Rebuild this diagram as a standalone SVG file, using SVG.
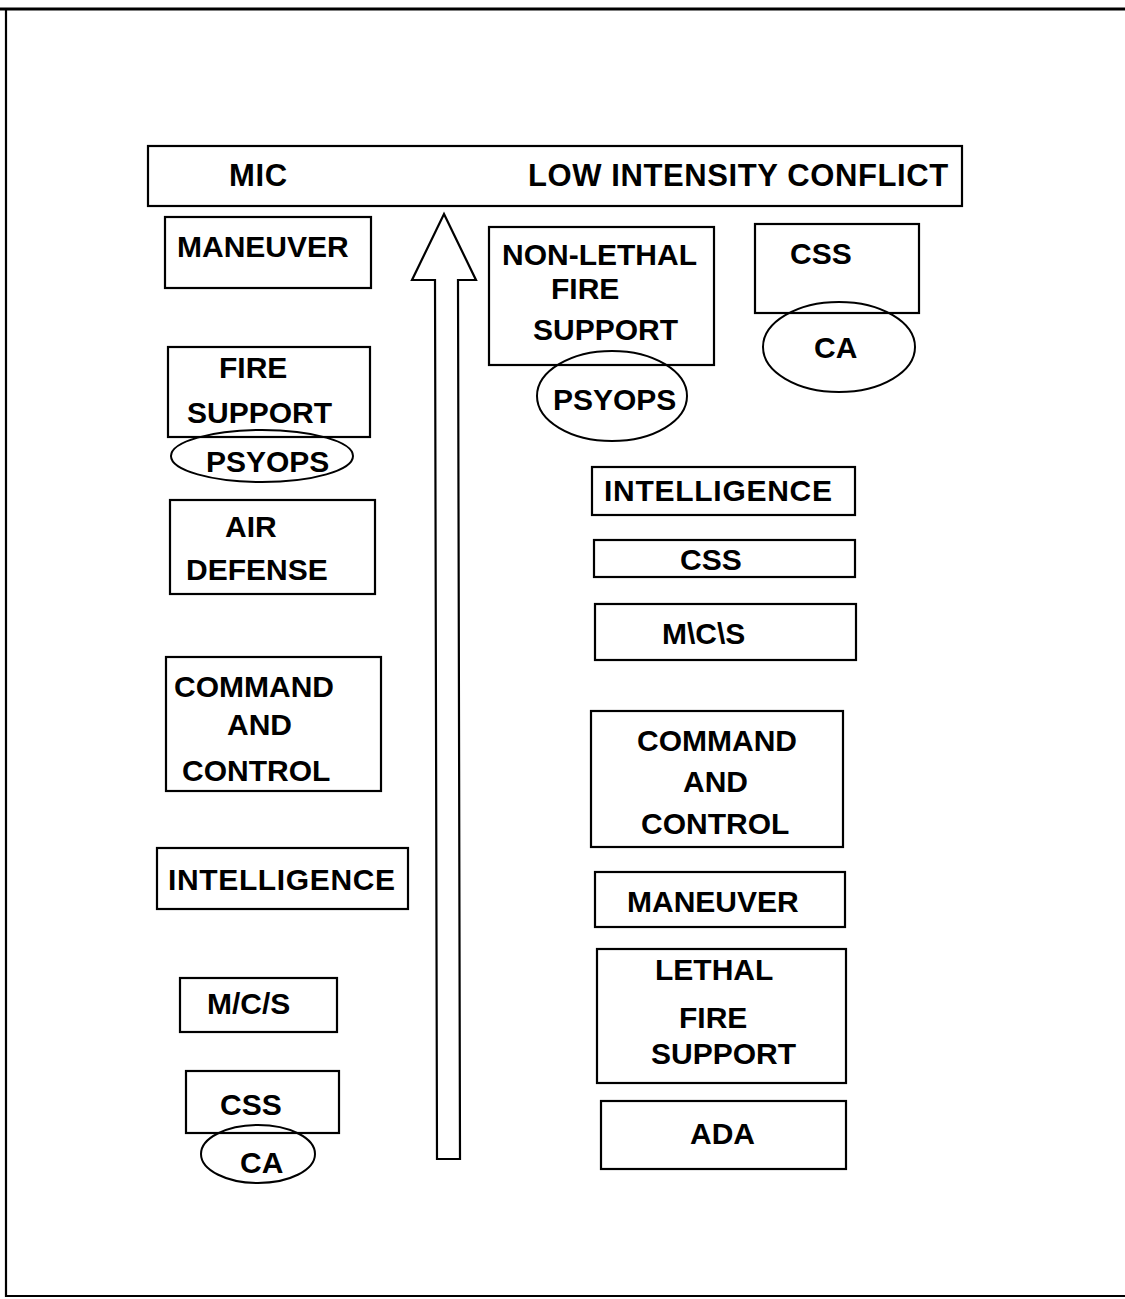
<svg xmlns="http://www.w3.org/2000/svg" width="1125" height="1299" viewBox="0 0 1125 1299">
<style>
.b{fill:#fff;stroke:#000;stroke-width:2.2}
.e{fill:none;stroke:#000;stroke-width:2}
text{font-family:"Liberation Sans",Arial,sans-serif;font-weight:bold;font-size:30px;fill:#000}
.h{font-size:31px;letter-spacing:0.6px}
</style>
<rect width="1125" height="1299" fill="#fff"/>
<g id="frame" fill="none" stroke="#000">
<line x1="0" y1="9" x2="1125" y2="9" stroke-width="3"/>
<line x1="6" y1="9" x2="6" y2="1297" stroke-width="2.2"/>
<line x1="6" y1="1296" x2="1125" y2="1296" stroke-width="2"/>
</g>
<g id="header"><rect class="b" x="148" y="146" width="814" height="60"/><text class="h" x="229" y="186">MIC</text><text class="h" x="528" y="186">LOW INTENSITY CONFLICT</text></g>
<g id="connectors"><path class="b" d="M444,214 L476,280 L458,280 L460,1159 L437,1159 L435,280 L412,280 Z"/></g>
<g id="l-maneuver"><rect class="b" x="165" y="217" width="206" height="71"/><text x="177" y="257">MANEUVER</text></g>
<g id="l-firesupport"><rect class="b" x="168" y="347" width="202" height="90"/><text x="219" y="378">FIRE</text><text x="187" y="423">SUPPORT</text></g>
<g id="l-psyops"><ellipse class="e" cx="262" cy="456" rx="91" ry="26"/><text x="206" y="472">PSYOPS</text></g>
<g id="l-airdefense"><rect class="b" x="170" y="500" width="205" height="94"/><text x="225" y="537">AIR</text><text x="186" y="580">DEFENSE</text></g>
<g id="l-c2"><rect class="b" x="166" y="657" width="215" height="134"/><text x="174" y="697">COMMAND</text><text x="227" y="735">AND</text><text x="182" y="781">CONTROL</text></g>
<g id="l-intel"><rect class="b" x="157" y="848" width="251" height="61"/><text x="168" y="890" textLength="227">INTELLIGENCE</text></g>
<g id="l-mcs"><rect class="b" x="180" y="978" width="157" height="54"/><text x="207" y="1014">M/C/S</text></g>
<g id="l-css"><rect class="b" x="186" y="1071" width="153" height="62"/><text x="220" y="1115">CSS</text></g>
<g id="l-ca"><ellipse class="e" cx="258" cy="1154" rx="57" ry="29"/><text x="240" y="1173">CA</text></g>
<g id="r-nonlethal"><rect class="b" x="489" y="227" width="225" height="138"/><text x="502" y="265">NON-LETHAL</text><text x="551" y="299">FIRE</text><text x="533" y="340">SUPPORT</text></g>
<g id="r-psyops"><ellipse class="e" cx="612" cy="396" rx="75" ry="45"/><text x="553" y="410">PSYOPS</text></g>
<g id="r-css"><rect class="b" x="755" y="224" width="164" height="89"/><text x="790" y="264">CSS</text></g>
<g id="r-ca"><ellipse class="e" cx="839" cy="347" rx="76" ry="45"/><text x="814" y="358">CA</text></g>
<g id="r-intel"><rect class="b" x="592" y="467" width="263" height="48"/><text x="604" y="501" textLength="228">INTELLIGENCE</text></g>
<g id="r-css2"><rect class="b" x="594" y="540" width="261" height="37"/><text x="680" y="570">CSS</text></g>
<g id="r-mcs"><rect class="b" x="595" y="604" width="261" height="56"/><text x="662" y="644">M\C\S</text></g>
<g id="r-c2"><rect class="b" x="591" y="711" width="252" height="136"/><text x="637" y="751">COMMAND</text><text x="683" y="792">AND</text><text x="641" y="834">CONTROL</text></g>
<g id="r-maneuver"><rect class="b" x="595" y="872" width="250" height="55"/><text x="627" y="912">MANEUVER</text></g>
<g id="r-lethal"><rect class="b" x="597" y="949" width="249" height="134"/><text x="655" y="980">LETHAL</text><text x="679" y="1028">FIRE</text><text x="651" y="1064">SUPPORT</text></g>
<g id="r-ada"><rect class="b" x="601" y="1101" width="245" height="68"/><text x="690" y="1144">ADA</text></g>
</svg>
